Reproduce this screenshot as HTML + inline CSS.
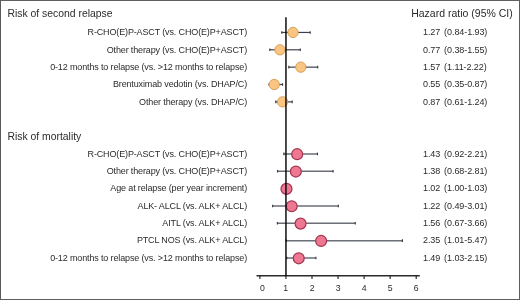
<!DOCTYPE html>
<html><head><meta charset="utf-8"><style>
html,body{margin:0;padding:0;background:#fff;}
body{width:520px;height:300px;overflow:hidden;}
svg{display:block;font-family:"Liberation Sans", sans-serif;}
</style></head><body>
<svg width="520" height="300" viewBox="0 0 520 300">
<rect x="0" y="0" width="520" height="1" fill="#606060"/>
<rect x="0" y="0" width="1" height="300" fill="#5a5a5a"/>
<rect x="519" y="0" width="1" height="300" fill="#5e5e5e"/>
<rect x="0" y="299" width="520" height="1" fill="#5e5e5e"/>
<text x="7.4" y="16.6" font-size="10.4" fill="#2b2b2b">Risk of second relapse</text>
<text x="411.2" y="16.6" font-size="10.5" fill="#2b2b2b">Hazard ratio (95% CI)</text>
<text x="7.4" y="139.6" font-size="10.4" fill="#2b2b2b">Risk of mortality</text>
<text x="247.0" y="35.20" font-size="9.0" letter-spacing="-0.14" text-anchor="end" fill="#2b2b2b">R-CHO(E)P-ASCT (vs. CHO(E)P+ASCT)</text>
<text x="423.0" y="35.20" font-size="9.0" letter-spacing="-0.08" word-spacing="1.5" fill="#2b2b2b">1.27 (0.84-1.93)</text>
<text x="247.0" y="52.55" font-size="9.0" letter-spacing="-0.14" text-anchor="end" fill="#2b2b2b">Other therapy (vs. CHO(E)P+ASCT)</text>
<text x="423.0" y="52.55" font-size="9.0" letter-spacing="-0.08" word-spacing="1.5" fill="#2b2b2b">0.77 (0.38-1.55)</text>
<text x="247.0" y="69.90" font-size="9.0" letter-spacing="-0.14" text-anchor="end" fill="#2b2b2b">0-12 months to relapse (vs. &gt;12 months to relapse)</text>
<text x="423.0" y="69.90" font-size="9.0" letter-spacing="-0.08" word-spacing="1.5" fill="#2b2b2b">1.57 (1.11-2.22)</text>
<text x="247.0" y="87.25" font-size="9.0" letter-spacing="-0.14" text-anchor="end" fill="#2b2b2b">Brentuximab vedotin (vs. DHAP/C)</text>
<text x="423.0" y="87.25" font-size="9.0" letter-spacing="-0.08" word-spacing="1.5" fill="#2b2b2b">0.55 (0.35-0.87)</text>
<text x="247.0" y="104.60" font-size="9.0" letter-spacing="-0.14" text-anchor="end" fill="#2b2b2b">Other therapy (vs. DHAP/C)</text>
<text x="423.0" y="104.60" font-size="9.0" letter-spacing="-0.08" word-spacing="1.5" fill="#2b2b2b">0.87 (0.61-1.24)</text>
<text x="247.0" y="156.65" font-size="9.0" letter-spacing="-0.14" text-anchor="end" fill="#2b2b2b">R-CHO(E)P-ASCT (vs. CHO(E)P+ASCT)</text>
<text x="423.0" y="156.65" font-size="9.0" letter-spacing="-0.08" word-spacing="1.5" fill="#2b2b2b">1.43 (0.92-2.21)</text>
<text x="247.0" y="174.00" font-size="9.0" letter-spacing="-0.14" text-anchor="end" fill="#2b2b2b">Other therapy (vs. CHO(E)P+ASCT)</text>
<text x="423.0" y="174.00" font-size="9.0" letter-spacing="-0.08" word-spacing="1.5" fill="#2b2b2b">1.38 (0.68-2.81)</text>
<text x="247.0" y="191.35" font-size="9.0" letter-spacing="-0.14" text-anchor="end" fill="#2b2b2b">Age at relapse (per year increment)</text>
<text x="423.0" y="191.35" font-size="9.0" letter-spacing="-0.08" word-spacing="1.5" fill="#2b2b2b">1.02 (1.00-1.03)</text>
<text x="247.0" y="208.70" font-size="9.0" letter-spacing="-0.14" text-anchor="end" fill="#2b2b2b">ALK- ALCL (vs. ALK+ ALCL)</text>
<text x="423.0" y="208.70" font-size="9.0" letter-spacing="-0.08" word-spacing="1.5" fill="#2b2b2b">1.22 (0.49-3.01)</text>
<text x="247.0" y="226.05" font-size="9.0" letter-spacing="-0.14" text-anchor="end" fill="#2b2b2b">AITL (vs. ALK+ ALCL)</text>
<text x="423.0" y="226.05" font-size="9.0" letter-spacing="-0.08" word-spacing="1.5" fill="#2b2b2b">1.56 (0.67-3.66)</text>
<text x="247.0" y="243.40" font-size="9.0" letter-spacing="-0.14" text-anchor="end" fill="#2b2b2b">PTCL NOS (vs. ALK+ ALCL)</text>
<text x="423.0" y="243.40" font-size="9.0" letter-spacing="-0.08" word-spacing="1.5" fill="#2b2b2b">2.35 (1.01-5.47)</text>
<text x="247.0" y="260.75" font-size="9.0" letter-spacing="-0.14" text-anchor="end" fill="#2b2b2b">0-12 months to relapse (vs. &gt;12 months to relapse)</text>
<text x="423.0" y="260.75" font-size="9.0" letter-spacing="-0.08" word-spacing="1.5" fill="#2b2b2b">1.49 (1.03-2.15)</text>
<line x1="256.5" x2="419.8" y1="275.75" y2="275.75" stroke="#2b2b2b" stroke-width="1.5"/>
<line x1="259.90" x2="259.90" y1="275" y2="278.9" stroke="#222" stroke-width="1.15"/>
<text x="262.30" y="290.7" font-size="8.7" text-anchor="middle" fill="#2b2b2b">0</text>
<line x1="285.95" x2="285.95" y1="275" y2="278.9" stroke="#222" stroke-width="1.15"/>
<text x="285.60" y="290.7" font-size="8.7" text-anchor="middle" fill="#2b2b2b">1</text>
<line x1="312.00" x2="312.00" y1="275" y2="278.9" stroke="#222" stroke-width="1.15"/>
<text x="312.10" y="290.7" font-size="8.7" text-anchor="middle" fill="#2b2b2b">2</text>
<line x1="338.05" x2="338.05" y1="275" y2="278.9" stroke="#222" stroke-width="1.15"/>
<text x="338.20" y="290.7" font-size="8.7" text-anchor="middle" fill="#2b2b2b">3</text>
<line x1="364.10" x2="364.10" y1="275" y2="278.9" stroke="#222" stroke-width="1.15"/>
<text x="364.20" y="290.7" font-size="8.7" text-anchor="middle" fill="#2b2b2b">4</text>
<line x1="390.15" x2="390.15" y1="275" y2="278.9" stroke="#222" stroke-width="1.15"/>
<text x="390.20" y="290.7" font-size="8.7" text-anchor="middle" fill="#2b2b2b">5</text>
<line x1="416.20" x2="416.20" y1="275" y2="278.9" stroke="#222" stroke-width="1.15"/>
<text x="416.10" y="290.7" font-size="8.7" text-anchor="middle" fill="#2b2b2b">6</text>
<line x1="281.78" x2="310.18" y1="32.45" y2="32.45" stroke="#3d4250" stroke-width="1.2"/>
<line x1="281.78" x2="281.78" y1="31.15" y2="33.75" stroke="#333" stroke-width="1.1"/>
<line x1="310.18" x2="310.18" y1="31.15" y2="33.75" stroke="#333" stroke-width="1.1"/>
<line x1="269.80" x2="300.28" y1="49.80" y2="49.80" stroke="#3d4250" stroke-width="1.2"/>
<line x1="269.80" x2="269.80" y1="48.50" y2="51.10" stroke="#333" stroke-width="1.1"/>
<line x1="300.28" x2="300.28" y1="48.50" y2="51.10" stroke="#333" stroke-width="1.1"/>
<line x1="288.82" x2="317.73" y1="67.15" y2="67.15" stroke="#3d4250" stroke-width="1.2"/>
<line x1="288.82" x2="288.82" y1="65.85" y2="68.45" stroke="#333" stroke-width="1.1"/>
<line x1="317.73" x2="317.73" y1="65.85" y2="68.45" stroke="#333" stroke-width="1.1"/>
<line x1="269.02" x2="282.56" y1="84.50" y2="84.50" stroke="#3d4250" stroke-width="1.2"/>
<line x1="269.02" x2="269.02" y1="83.20" y2="85.80" stroke="#333" stroke-width="1.1"/>
<line x1="282.56" x2="282.56" y1="83.20" y2="85.80" stroke="#333" stroke-width="1.1"/>
<line x1="275.79" x2="292.20" y1="101.85" y2="101.85" stroke="#3d4250" stroke-width="1.2"/>
<line x1="275.79" x2="275.79" y1="100.55" y2="103.15" stroke="#333" stroke-width="1.1"/>
<line x1="292.20" x2="292.20" y1="100.55" y2="103.15" stroke="#333" stroke-width="1.1"/>
<line x1="283.87" x2="317.47" y1="153.90" y2="153.90" stroke="#6a6e76" stroke-width="1.5"/>
<line x1="283.87" x2="283.87" y1="152.60" y2="155.20" stroke="#333" stroke-width="1.1"/>
<line x1="317.47" x2="317.47" y1="152.60" y2="155.20" stroke="#333" stroke-width="1.1"/>
<line x1="277.61" x2="333.10" y1="171.25" y2="171.25" stroke="#6a6e76" stroke-width="1.5"/>
<line x1="277.61" x2="277.61" y1="169.95" y2="172.55" stroke="#333" stroke-width="1.1"/>
<line x1="333.10" x2="333.10" y1="169.95" y2="172.55" stroke="#333" stroke-width="1.1"/>
<line x1="285.95" x2="286.73" y1="188.60" y2="188.60" stroke="#6a6e76" stroke-width="1.5"/>
<line x1="285.95" x2="285.95" y1="187.30" y2="189.90" stroke="#333" stroke-width="1.1"/>
<line x1="286.73" x2="286.73" y1="187.30" y2="189.90" stroke="#333" stroke-width="1.1"/>
<line x1="272.66" x2="338.31" y1="205.95" y2="205.95" stroke="#6a6e76" stroke-width="1.5"/>
<line x1="272.66" x2="272.66" y1="204.65" y2="207.25" stroke="#333" stroke-width="1.1"/>
<line x1="338.31" x2="338.31" y1="204.65" y2="207.25" stroke="#333" stroke-width="1.1"/>
<line x1="277.35" x2="355.24" y1="223.30" y2="223.30" stroke="#6a6e76" stroke-width="1.5"/>
<line x1="277.35" x2="277.35" y1="222.00" y2="224.60" stroke="#333" stroke-width="1.1"/>
<line x1="355.24" x2="355.24" y1="222.00" y2="224.60" stroke="#333" stroke-width="1.1"/>
<line x1="286.21" x2="402.39" y1="240.65" y2="240.65" stroke="#6a6e76" stroke-width="1.5"/>
<line x1="286.21" x2="286.21" y1="239.35" y2="241.95" stroke="#333" stroke-width="1.1"/>
<line x1="402.39" x2="402.39" y1="239.35" y2="241.95" stroke="#333" stroke-width="1.1"/>
<line x1="286.73" x2="315.91" y1="258.00" y2="258.00" stroke="#6a6e76" stroke-width="1.5"/>
<line x1="286.73" x2="286.73" y1="256.70" y2="259.30" stroke="#333" stroke-width="1.1"/>
<line x1="315.91" x2="315.91" y1="256.70" y2="259.30" stroke="#333" stroke-width="1.1"/>
<circle cx="292.98" cy="32.45" r="5.15" fill="#FAC583" stroke="#D39A4E" stroke-width="0.9"/>
<circle cx="279.96" cy="49.80" r="5.15" fill="#FAC583" stroke="#D39A4E" stroke-width="0.9"/>
<circle cx="300.80" cy="67.15" r="5.15" fill="#FAC583" stroke="#D39A4E" stroke-width="0.9"/>
<circle cx="274.23" cy="84.50" r="5.15" fill="#FAC583" stroke="#D39A4E" stroke-width="0.9"/>
<circle cx="282.56" cy="101.85" r="5.15" fill="#FAC583" stroke="#D39A4E" stroke-width="0.9"/>
<circle cx="297.15" cy="154.20" r="5.47" fill="#EE7892" stroke="#A23652" stroke-width="1.25"/>
<circle cx="295.85" cy="171.55" r="5.47" fill="#EE7892" stroke="#A23652" stroke-width="1.25"/>
<circle cx="286.47" cy="188.90" r="5.47" fill="#EE7892" stroke="#A23652" stroke-width="1.25"/>
<circle cx="291.68" cy="206.25" r="5.47" fill="#EE7892" stroke="#A23652" stroke-width="1.25"/>
<circle cx="300.54" cy="223.60" r="5.47" fill="#EE7892" stroke="#A23652" stroke-width="1.25"/>
<circle cx="321.12" cy="240.95" r="5.47" fill="#EE7892" stroke="#A23652" stroke-width="1.25"/>
<circle cx="298.71" cy="258.30" r="5.47" fill="#EE7892" stroke="#A23652" stroke-width="1.25"/>
<line x1="285.95" x2="285.95" y1="17.2" y2="276" stroke="#2b2b2b" stroke-width="1.7" style="mix-blend-mode:multiply"/>
</svg>
</body></html>
